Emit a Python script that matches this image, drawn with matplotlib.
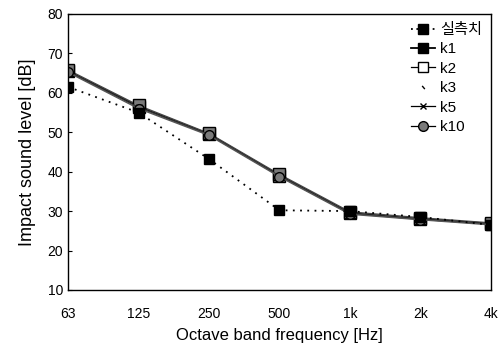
import matplotlib
matplotlib.use("Agg")
import matplotlib.pyplot as plt

plt.rcParams['font.family'] = ['Liberation Sans', 'Noto Sans CJK KR', 'DejaVu Sans']

freqs = ["63", "125", "250", "500", "1k", "2k", "4k"]
measured = [61.5, 55.0, 43.2, 30.2, 30.0, 28.5, 26.5]
k1 = [65.5, 56.5, 49.5, 39.0, 29.5, 28.0, 26.8]
k2 = [65.8, 56.8, 49.7, 39.3, 29.8, 28.3, 27.0]
k3 = [65.6, 56.6, 49.6, 39.1, 29.6, 28.1, 26.9]
k5 = [65.4, 56.3, 49.4, 38.9, 29.4, 27.9, 26.7]
k10 = [65.2, 56.0, 49.2, 38.7, 29.2, 27.8, 26.5]

fig = plt.figure(figsize=(5.02, 3.54), dpi=100)
ax = fig.add_axes([0.1355, 0.181, 0.8425, 0.7795])
x = list(range(len(freqs)))

gray = "#7a7a7a"
ax.plot(x, measured, linestyle=(0, (1, 3)), color="black", lw=1.3, marker="s",
        ms=7, mfc="black", mec="black", label="실측치", zorder=5)
ax.plot(x, k1, '-', color="black", lw=1.3, marker="s", ms=8, mfc=gray,
        mec="black", label="k1")
ax.plot(x, k2, '-', color="#444444", lw=1.0, marker="s", ms=8, mfc=gray,
        mec="black", label="k2")
ax.plot(x, k3, linestyle="none", color="black", marker=(2, 0, 40), ms=3,
        label="k3")
ax.plot(x, k5, '-', color="#333333", lw=1.0, marker="x", ms=5, mec="#333333",
        label="k5")
ax.plot(x, k10, '-', color="#555555", lw=1.0, marker="o", ms=7, mfc=gray,
        mec="black", label="k10")

ax.set_xlim(0, 6)
ax.set_ylim(10, 80)
ax.set_xticks(x)
ax.set_xticklabels(freqs)
ax.set_yticks(range(10, 81, 10))
ax.tick_params(axis='x', length=0, pad=12, labelsize=10)
ax.tick_params(axis='y', direction='in', length=3, labelsize=10)
for s in ax.spines.values():
    s.set_linewidth(1.0)

ax.set_xlabel("Octave band frequency [Hz]", fontsize=12, labelpad=5)
ax.set_ylabel("Impact sound level [dB]", fontsize=13, labelpad=8)

# legend handles: custom for measured and k1 black square
from matplotlib.lines import Line2D
handles = [
    Line2D([], [], linestyle=(0, (1, 2)), color="black", lw=1.3, marker="s", ms=7, mfc="black", mec="black"),
    Line2D([], [], linestyle='-', color="black", lw=1.3, marker="s", ms=7, mfc="black", mec="black"),
    Line2D([], [], linestyle='-', color="black", lw=0.9, marker="s", ms=7, mfc="white", mec="black"),
    Line2D([], [], linestyle="none", color="black", marker=(2, 0, 40), ms=3),
    Line2D([], [], linestyle='-', color="black", lw=0.9, marker="x", ms=5),
    Line2D([], [], linestyle='-', color="black", lw=0.9, marker="o", ms=7, mfc=gray, mec="black"),
]
labels = ["실측치", "k1", "k2", "k3", "k5", "k10"]
ax.legend(handles, labels, loc="upper right", bbox_to_anchor=(1.0, 1.0),
          frameon=False, fontsize=11, handlelength=1.6, handletextpad=0.3,
          labelspacing=0.35, borderaxespad=0.2)

fig.savefig("out.png", dpi=100)
